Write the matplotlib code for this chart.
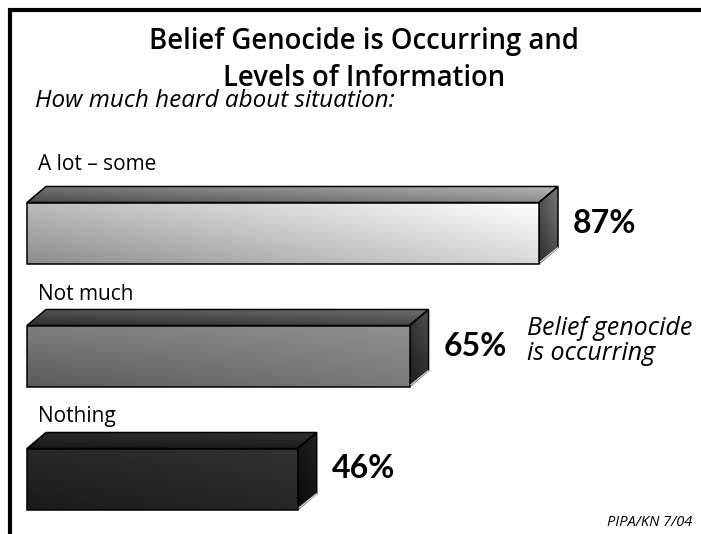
import numpy as np
import matplotlib
matplotlib.use("Agg")
import matplotlib.pyplot as plt
from matplotlib.patches import Polygon
from matplotlib.lines import Line2D

# ---- data ----
categories = ["A lot \u2013 some", "Not much", "Nothing"]
values = [87, 65, 46]
value_labels = ["87%", "65%", "46%"]
title_lines = ["Belief Genocide is Occurring and", "Levels of Information"]
subtitle = "How much heard about situation:"
series_note = ["Belief genocide", "is occurring"]
source = "PIPA/KN 7/04"

# ---- layout (figure pixels) ----
W, H = 701, 534
TEXT_FONT = ["Open Sans", "DejaVu Sans"]
NUM_FONT = ["Lato", "DejaVu Sans"]

fig = plt.figure(figsize=(W / 100, H / 100), dpi=100)
fig.patch.set_facecolor("white")
ax = fig.add_axes([0, 0, 1, 1])
ax.set_axis_off()

# x axis in percent: zero at 27 px, 5.885 px per percent
x0_px, px_per_pct = 27.0, 5.885
ax.set_xlim(-x0_px / px_per_pct, (W - x0_px) / px_per_pct)
# y axis in category units: row 0 centred at 233 px, rows 123 px apart
y0_px, px_per_row = 233.0, 123.0
ax.set_ylim((H - y0_px) / px_per_row, -y0_px / px_per_row)

bar_h = 61.0 / px_per_row
ddx = 19.0 / px_per_pct      # depth offset to the right
ddy = 16.0 / px_per_row      # depth offset upward


def fig_xy(xp, yp):
    return xp / W, 1 - yp / H


def shade(verts, corners, z=2):
    """Fill polygon with a bilinear grey gradient.
    corners = (top-left, top-right, bottom-left, bottom-right) grey levels 0..1
    """
    verts = np.asarray(verts)
    xmin, xmax = verts[:, 0].min(), verts[:, 0].max()
    ymin, ymax = verts[:, 1].min(), verts[:, 1].max()
    tl, tr, bl, br = corners
    nx, ny = 200, 60
    u = np.linspace(0, 1, nx)[None, :]
    v = np.linspace(0, 1, ny)[:, None]   # 0 = top (ymin in inverted axis)
    g = (tl * (1 - u) * (1 - v) + tr * u * (1 - v)
         + bl * (1 - u) * v + br * u * v)
    img = np.dstack([g, g, g])
    im = ax.imshow(img, extent=(xmin, xmax, ymax, ymin), aspect="auto",
                   interpolation="bilinear", zorder=z)
    poly = Polygon(verts, closed=True, facecolor="none", edgecolor="black",
                   linewidth=1.1, zorder=z + 0.5, joinstyle="miter")
    ax.add_patch(poly)
    im.set_clip_path(poly)


def h(hexs):
    return int(hexs, 16) / 255.0


# grey levels per bar: front, top, side  (tl, tr, bl, br)
front_shades = [
    (h("bc"), h("ff"), h("8c"), h("d8")),
    (h("7e"), h("90"), h("5a"), h("7a")),
    (h("28"), h("32"), h("1a"), h("26")),
]
top_shades = [
    (h("72"), h("b4"), h("48"), h("8e")),
    (h("52"), h("6c"), h("2c"), h("48")),
    (h("2a"), h("30"), h("16"), h("1c")),
]
side_shades = [
    (h("58"), h("7a"), h("2c"), h("4a")),
    (h("3a"), h("50"), h("1c"), h("2c")),
    (h("1a"), h("22"), h("0a"), h("10")),
]

for i, (cat, val, lab) in enumerate(zip(categories, values, value_labels)):
    yt = i - bar_h / 2
    yb = i + bar_h / 2
    front = [(0, yt), (val, yt), (val, yb), (0, yb)]
    top = [(0, yt), (ddx, yt - ddy), (val + ddx, yt - ddy), (val, yt)]
    side = [(val, yt), (val + ddx, yt - ddy), (val + ddx, yb - ddy), (val, yb)]
    shade(top, top_shades[i])
    shade(side, side_shades[i])
    shade(front, front_shades[i], z=3)
    # light glint along the lower edge of the side face
    ax.plot([val + 0.15, val + ddx], [yb - 0.01, yb - ddy], color="#d8d8d8",
            linewidth=1.0, zorder=4, solid_capstyle="butt")

    # value label to the right of the bar
    ax.annotate(lab, xy=(val + ddx, i), xytext=(15, 10),
                textcoords="offset pixels", ha="left", va="center",
                fontsize=23, fontweight="bold", family=NUM_FONT,
                color="black", zorder=5)

# category labels above each bar
cat_baselines = [170, 300, 422]
for cat, yb_px in zip(categories, cat_baselines):
    fig.text(*fig_xy(38, yb_px), cat, ha="left", va="baseline",
             fontsize=15, family=TEXT_FONT, color="black")

# title
fig.text(*fig_xy(364, 49), title_lines[0], ha="center", va="baseline",
         fontsize=19.8, fontweight="semibold", family=TEXT_FONT)
fig.text(*fig_xy(364, 86), title_lines[1], ha="center", va="baseline",
         fontsize=19.8, fontweight="semibold", family=TEXT_FONT)

# subtitle
fig.text(*fig_xy(35, 107), subtitle, ha="left", va="baseline",
         fontsize=17.5, style="italic", family=TEXT_FONT)

# series note
fig.text(*fig_xy(527, 335), series_note[0], ha="left", va="baseline",
         fontsize=18, style="italic", family=TEXT_FONT)
fig.text(*fig_xy(527, 360), series_note[1], ha="left", va="baseline",
         fontsize=18, style="italic", family=TEXT_FONT)

# source
fig.text(*fig_xy(692, 526), source, ha="right", va="baseline",
         fontsize=10.5, style="italic", family=TEXT_FONT)

# frame: thick rule across the top and down the left
fig.add_artist(Line2D([8 / W, 1], [1 - 10 / H, 1 - 10 / H],
                      transform=fig.transFigure, color="black", linewidth=3,
                      solid_capstyle="butt"))
fig.add_artist(Line2D([10 / W, 10 / W], [1 - 8 / H, 0],
                      transform=fig.transFigure, color="black", linewidth=3,
                      solid_capstyle="butt"))

fig.savefig("out.png", dpi=100, facecolor="white")
